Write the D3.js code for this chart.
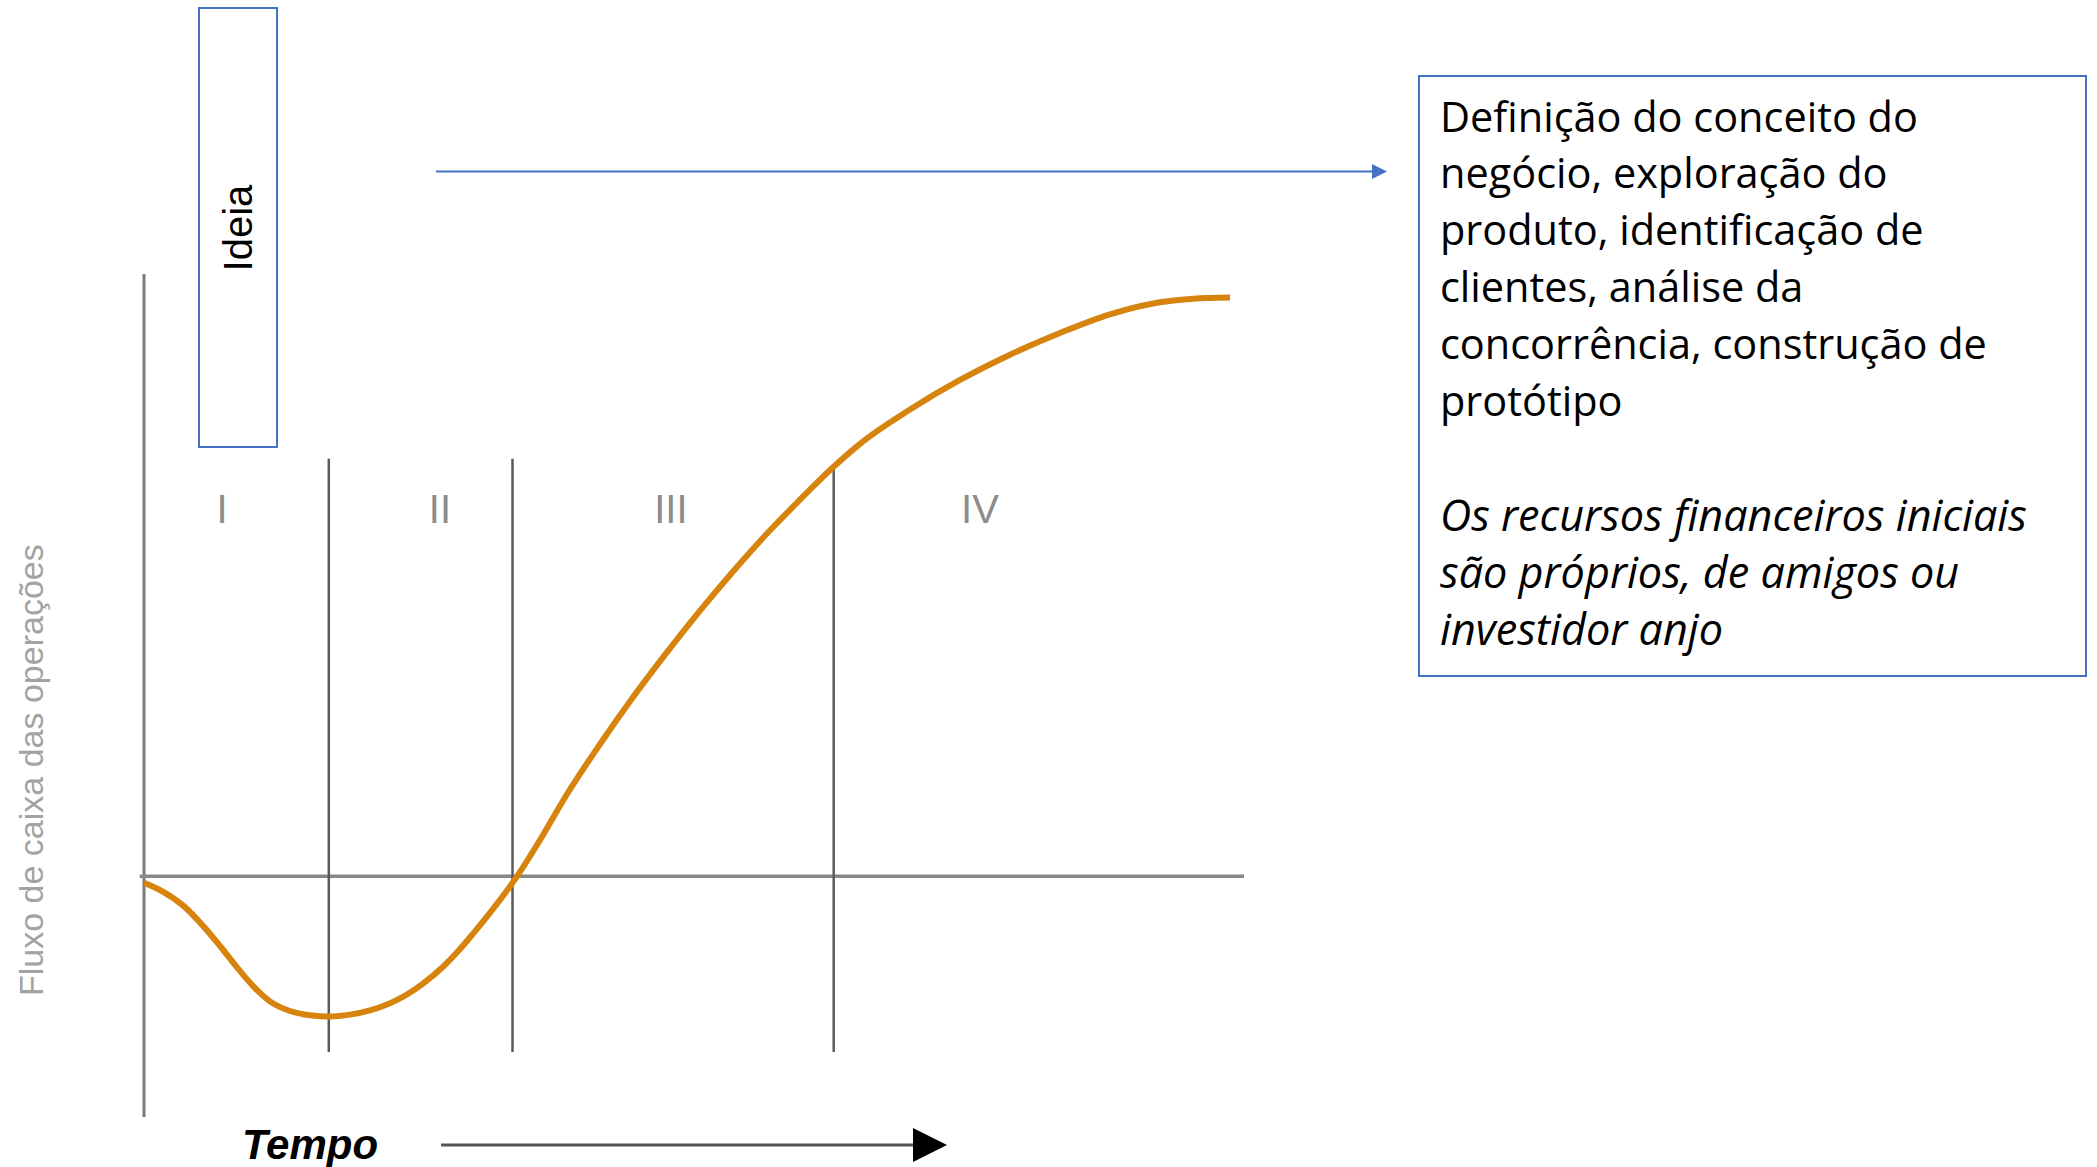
<!DOCTYPE html>
<html>
<head>
<meta charset="utf-8">
<script src="https://cdn.jsdelivr.net/npm/d3@7"></script>
<style>
  body { margin: 0; background: #fff; }
  svg { display: block; }
</style>
</head>
<body>
<div id="container"></div>
<script>
/* CONSTANTS AND GLOBALS */
const width = 2097;
const height = 1167;

// cash flow curve (time units 0-100, cash flow units)
const timeValues = [0, 1.75, 3.57, 5.39, 6.91, 8.43, 9.94, 11.45, 13.27, 15.09, 16.91, 18.73, 20.55,
  22.97, 25.39, 27.21, 28.73, 29.94, 31.45, 33.0, 34.18, 36.0, 38.45, 41.45, 44.45, 47.55,
  50.55, 53.55, 56.64, 59.36, 62.64, 65.09, 69.64, 74.18, 78.73, 83.27, 87.82, 92.36, 95.36, 98.73];
const cashFlowValues = [-1.1, -2.6, -4.9, -8.3, -11.6, -15.1, -18.3, -20.8, -22.4, -23.1, -23.3, -23.0, -22.3,
  -20.6, -17.8, -15.0, -12.1, -9.5, -6.1, -2.4, 0.7, 6.0, 13.6, 21.9, 29.7, 37.2,
  44.1, 50.6, 56.9, 62.0, 67.9, 71.8, 77.5, 82.4, 86.6, 90.2, 93.3, 95.3, 95.9, 96.1];

// stages
const stageLabels = ["I", "II", "III", "IV"];
const stageLabelTimes = [7.1, 26.9, 47.9, 76];
const stageBoundaries = [16.8, 33.5, 62.7];
const boundaryTops = [69.3, 69.3, 68.3];

// texts
const yAxisTitle = "Fluxo de caixa das operações";
const xAxisTitle = "Tempo";
const phaseTitle = "Ideia";
const noteLines = [
  "Definição do conceito do",
  "negócio, exploração do",
  "produto, identificação de",
  "clientes, análise da",
  "concorrência, construção de",
  "protótipo"
];
const noteItalicLines = [
  "Os recursos financeiros iniciais",
  "são próprios, de amigos ou",
  "investidor anjo"
];

const data = timeValues.map((t, i) => ({ t: t, v: cashFlowValues[i] }));

/* SCALES */
const xScale = d3.scaleLinear().domain([0, 100]).range([144, 1244]);
const yScale = d3.scaleLinear().domain([-40, 100]).range([1117, 274]);

/* SVG */
const svg = d3.select("#container")
  .append("svg")
  .attr("width", width)
  .attr("height", height);

svg.append("rect").attr("width", width).attr("height", height).attr("fill", "#fff");

const defs = svg.append("defs");
defs.append("marker")
  .attr("id", "blueHead")
  .attr("viewBox", "0 0 10 10")
  .attr("refX", 0).attr("refY", 5)
  .attr("markerUnits", "userSpaceOnUse")
  .attr("markerWidth", 15).attr("markerHeight", 15)
  .attr("orient", "auto")
  .append("path").attr("d", "M0,0L10,5L0,10Z").attr("fill", "#4472c4");
defs.append("marker")
  .attr("id", "blackHead")
  .attr("viewBox", "0 0 10 10")
  .attr("refX", 0).attr("refY", 5)
  .attr("markerUnits", "userSpaceOnUse")
  .attr("markerWidth", 34).attr("markerHeight", 34)
  .attr("orient", "auto")
  .append("path").attr("d", "M0,0L10,5L0,10Z").attr("fill", "#000");

// y axis (vertical line)
svg.append("line")
  .attr("x1", xScale(0)).attr("x2", xScale(0))
  .attr("y1", yScale(100)).attr("y2", yScale(-40))
  .attr("stroke", "#7a7a7a").attr("stroke-width", 3);

// zero line
svg.append("line")
  .attr("x1", xScale(-0.4)).attr("x2", xScale(100))
  .attr("y1", yScale(0)).attr("y2", yScale(0))
  .attr("stroke", "#888").attr("stroke-width", 3.5);

// stage dividers
svg.selectAll("line.divider")
  .data(stageBoundaries)
  .join("line")
  .attr("class", "divider")
  .attr("x1", d => xScale(d)).attr("x2", d => xScale(d))
  .attr("y1", (d, i) => yScale(boundaryTops[i]))
  .attr("y2", yScale(-29.2))
  .attr("stroke", "#5a5a5a").attr("stroke-width", 2.5);

// stage labels
svg.selectAll("text.stage")
  .data(stageLabels)
  .join("text")
  .attr("class", "stage")
  .attr("x", (d, i) => xScale(stageLabelTimes[i]))
  .attr("y", 523)
  .attr("text-anchor", "middle")
  .attr("font-family", "Liberation Sans, Arial, sans-serif")
  .attr("font-size", 40)
  .attr("fill", "#8c8c8c")
  .text(d => d);

// cash flow curve
const line = d3.line()
  .x(d => xScale(d.t))
  .y(d => yScale(d.v))
  .curve(d3.curveMonotoneX);

svg.append("path")
  .datum(data)
  .attr("d", line)
  .attr("fill", "none")
  .attr("stroke", "#d6840e")
  .attr("stroke-width", 6);

// y axis title
svg.append("text")
  .attr("transform", "translate(43,996) rotate(-90)")
  .attr("font-family", "Liberation Sans, Arial, sans-serif")
  .attr("font-size", 34)
  .attr("fill", "#a3a3a3")
  .text(yAxisTitle);

// x axis title + arrow
svg.append("text")
  .attr("x", 242).attr("y", 1159)
  .attr("font-family", "Liberation Sans, Arial, sans-serif")
  .attr("font-size", 42)
  .attr("font-weight", "bold")
  .attr("font-style", "italic")
  .attr("fill", "#000")
  .text(xAxisTitle);

svg.append("line")
  .attr("x1", 441).attr("x2", 913)
  .attr("y1", 1145).attr("y2", 1145)
  .attr("stroke", "#555").attr("stroke-width", 3)
  .attr("marker-end", "url(#blackHead)");

// Ideia box
svg.append("rect")
  .attr("x", 199).attr("y", 8)
  .attr("width", 78).attr("height", 439)
  .attr("fill", "none")
  .attr("stroke", "#4472c4").attr("stroke-width", 2);

svg.append("text")
  .attr("transform", "translate(252,228) rotate(-90)")
  .attr("text-anchor", "middle")
  .attr("font-family", "Liberation Sans, Arial, sans-serif")
  .attr("font-size", 40)
  .attr("fill", "#000")
  .text(phaseTitle);

// blue arrow
svg.append("line")
  .attr("x1", 436).attr("x2", 1372)
  .attr("y1", 171.5).attr("y2", 171.5)
  .attr("stroke", "#4472c4").attr("stroke-width", 2)
  .attr("marker-end", "url(#blueHead)");

// note box
svg.append("rect")
  .attr("x", 1419).attr("y", 76)
  .attr("width", 667).attr("height", 600)
  .attr("fill", "none")
  .attr("stroke", "#4472c4").attr("stroke-width", 2);

const lineStep = 56.8;
const noteFont = "Open Sans, Noto Sans, sans-serif";

const plain = svg.selectAll("text.note")
  .data(noteLines)
  .join("text")
  .attr("class", "note")
  .attr("x", 1440)
  .attr("y", (d, i) => 131.5 + i * lineStep)
  .attr("font-family", noteFont)
  .attr("font-size", 40)
  .attr("fill", "#000")
  .text(d => d);

const italic = svg.selectAll("text.noteItalic")
  .data(noteItalicLines)
  .join("text")
  .attr("class", "noteItalic")
  .attr("x", 1440)
  .attr("y", (d, i) => 531 + i * lineStep)
  .attr("font-family", noteFont)
  .attr("font-size", 40)
  .attr("font-style", "italic")
  .attr("fill", "#000")
  .text(d => d);

// fit the widest lines to the widths in the picture
const plainW = d3.max(plain.nodes(), n => n.getComputedTextLength());
plain.attr("font-size", 40 * 547 / plainW);
const italicW = d3.max(italic.nodes(), n => n.getComputedTextLength());
italic.attr("font-size", 40 * 587 / italicW);
</script>
</body>
</html>
